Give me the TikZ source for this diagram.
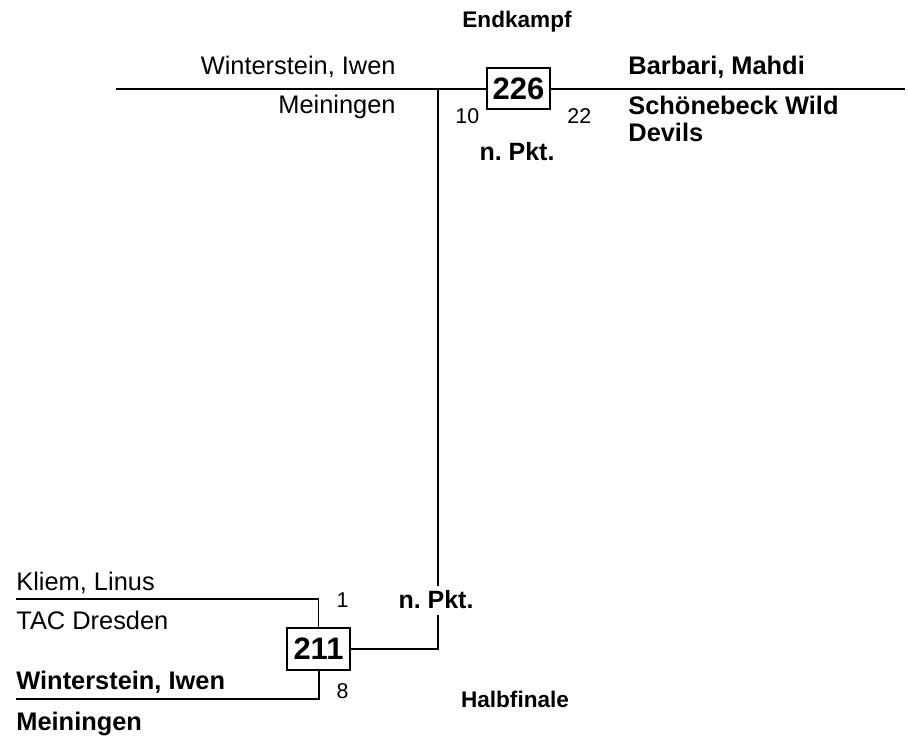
\documentclass[tikz,border=0pt]{standalone}
\usepackage{fontspec}
\setmainfont{Liberation Sans}
\frenchspacing
\begin{document}
\begin{tikzpicture}[x=0.5pt,y=-0.5pt,
  pname/.style={inner sep=0pt,font=\fontsize{12.7}{15}\selectfont},
  pbname/.style={inner sep=0pt,font=\fontsize{12.7}{15}\selectfont\bfseries},
  pscore/.style={inner sep=0pt,font=\fontsize{10.7}{13}\selectfont},
  prlabel/.style={inner sep=0pt,font=\fontsize{11.3}{13}\selectfont\bfseries},
  pnpkt/.style={inner sep=0pt,font=\fontsize{12.5}{15}\selectfont\bfseries},
  matchbox/.style={draw,line width=0.8pt,fill=white,inner sep=0pt,minimum width=31.5pt,minimum height=20.75pt,font=\fontsize{15.5}{18}\selectfont\bfseries},
  wire/.style={line width=1pt},
  thinwire/.style={line width=0.75pt}]
\useasboundingbox (0,0) rectangle (908,739);

% Final
\node[prlabel,anchor=base] (endk) at (517,27) {Endkampf};
\node[matchbox] (m226) at (518.5,88.5) {226};
\coordinate (tl) at (116,88.5);
\coordinate (tr) at (905,88.5);
\coordinate (vtop) at (438,88.5);
\coordinate (vmid) at (438,586);
\coordinate (vlow) at (438,615);
\coordinate (vbot) at (438,649);
\draw[wire] (tl) -- (m226.west);
\draw[wire] (m226.east) -- (tr);
\draw[wire] (vtop) -- (vmid);
\node[pname,anchor=base east] (w1) at (396,74) {Winterstein, Iwen};
\node[pname,anchor=base east] (c1) at (396,113) {Meiningen};
\node[pscore,anchor=base west] (s10) at (455,123) {10};
\node[pscore,anchor=base west] (s22) at (567,123) {22};
\node[pnpkt,anchor=base] (np1) at (517,160) {n. Pkt.};
\node[pbname,anchor=base west] (w2) at (628,74) {Barbari, Mahdi};
\node[pbname,anchor=base west] (c2a) at (628,114) {Schönebeck Wild};
\node[pbname,anchor=base west] (c2b) at (628,141) {Devils};

% Semifinal
\node[matchbox] (m211) at (318.5,649) {211};
\coordinate (kl) at (16,599);
\coordinate (kr) at (318.5,599);
\coordinate (wl) at (16,698.5);
\coordinate (wr) at (318.5,698.5);
\draw[thinwire] (kl) -- (kr) -- (m211.north);
\draw[wire] (wl) -- (wr) -- (m211.south);
\draw[wire] (m211.east) -- (vbot) -- (vlow);
\node[pname,anchor=base west] (k1) at (16,590) {Kliem, Linus};
\node[pname,anchor=base west] (k2) at (16,629) {TAC Dresden};
\node[pbname,anchor=base west] (w3) at (16,689) {Winterstein, Iwen};
\node[pbname,anchor=base west] (c3) at (16,730) {Meiningen};
\node[pscore,anchor=base] (s1) at (342.5,607) {1};
\node[pscore,anchor=base] (s8) at (342.5,698) {8};
\node[pnpkt,anchor=base] (np2) at (436,608) {n. Pkt.};
\node[prlabel,anchor=base] (halb) at (515,707) {Halbfinale};
\end{tikzpicture}
\end{document}
